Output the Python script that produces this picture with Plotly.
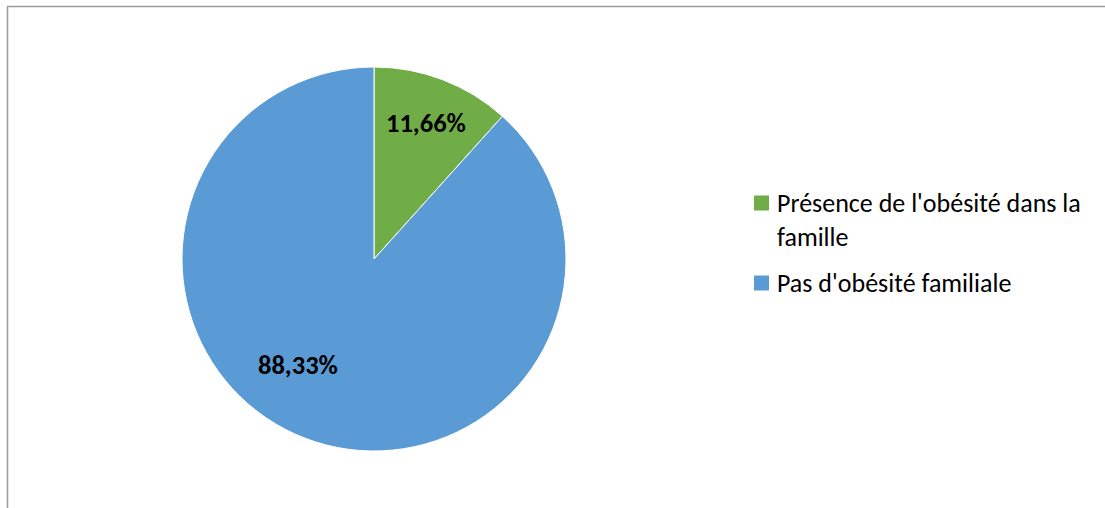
import math
import plotly.graph_objects as go

# Family obesity distribution
categories = ["Présence de l'obésité dans la<br>famille", "Pas d'obésité familiale"]
values = [11.66, 88.33]
value_labels = ["11,66%", "88,33%"]
colors = ["#70AD47", "#5B9BD5"]

W, H = 1105, 508
FONT = "Carlito, Lato, sans-serif"

# pie geometry (paper fractions)
dom_x = [182 / W, 566 / W]
dom_y = [57 / H, 441 / H]

fig = go.Figure(
    go.Pie(
        labels=categories,
        values=values,
        marker=dict(colors=colors, line=dict(color="white", width=1)),
        sort=False,
        direction="clockwise",
        rotation=0,
        textinfo="none",
        hoverinfo="label+percent",
        domain=dict(x=dom_x, y=dom_y),
        showlegend=False,
    )
)

# value labels placed along each slice, radius fraction and angular shift per label
cx = (dom_x[0] + dom_x[1]) / 2 * W
cy = (dom_y[0] + dom_y[1]) / 2 * H
R = (dom_x[1] - dom_x[0]) * W / 2
label_r = [0.76, 0.68]
label_shift = [0, 14.5]
total = sum(values)
start = 0.0
for v, txt, rf, sh in zip(values, value_labels, label_r, label_shift):
    mid = (start + v / 2) / total * 360 + sh
    start += v
    x = cx + math.sin(math.radians(mid)) * R * rf
    y = cy + math.cos(math.radians(mid)) * R * rf
    fig.add_annotation(
        x=x / W, y=y / H, xref="paper", yref="paper",
        xanchor="center", yanchor="middle",
        text=f"<b>{txt}</b>", showarrow=False,
        font=dict(family=FONT, size=26.5, color="black"),
    )

# legend: colour swatch + label for each slice
legend_rows = [203, 283]   # swatch centre, px from top
swatch = 15
for cat, col, yc in zip(categories, colors, legend_rows):
    fig.add_shape(type="rect", xref="paper", yref="paper",
                  x0=754 / W, x1=(754 + swatch) / W,
                  y0=1 - (yc + swatch / 2) / H, y1=1 - (yc - swatch / 2) / H,
                  fillcolor=col, line=dict(width=0))
    fig.add_annotation(x=775 / W, y=1 - (yc - 18) / H, xref="paper", yref="paper",
                       xanchor="left", yanchor="top", align="left",
                       text=cat, showarrow=False,
                       font=dict(family=FONT, size=26, color="black"))

# chart frame (top and left edges)
fig.add_shape(type="line", xref="paper", yref="paper",
              x0=7 / W, x1=1, y0=1 - 6.5 / H, y1=1 - 6.5 / H,
              line=dict(color="#9a9a9a", width=1.5))
fig.add_shape(type="line", xref="paper", yref="paper",
              x0=7.5 / W, x1=7.5 / W, y0=0, y1=1 - 6.5 / H,
              line=dict(color="#9a9a9a", width=1.5))

fig.update_layout(
    width=W, height=H,
    margin=dict(l=0, r=0, t=0, b=0),
    paper_bgcolor="white",
    plot_bgcolor="white",
    font=dict(family=FONT, size=26, color="black"),
    showlegend=False,
)

fig.write_html("out.html")
